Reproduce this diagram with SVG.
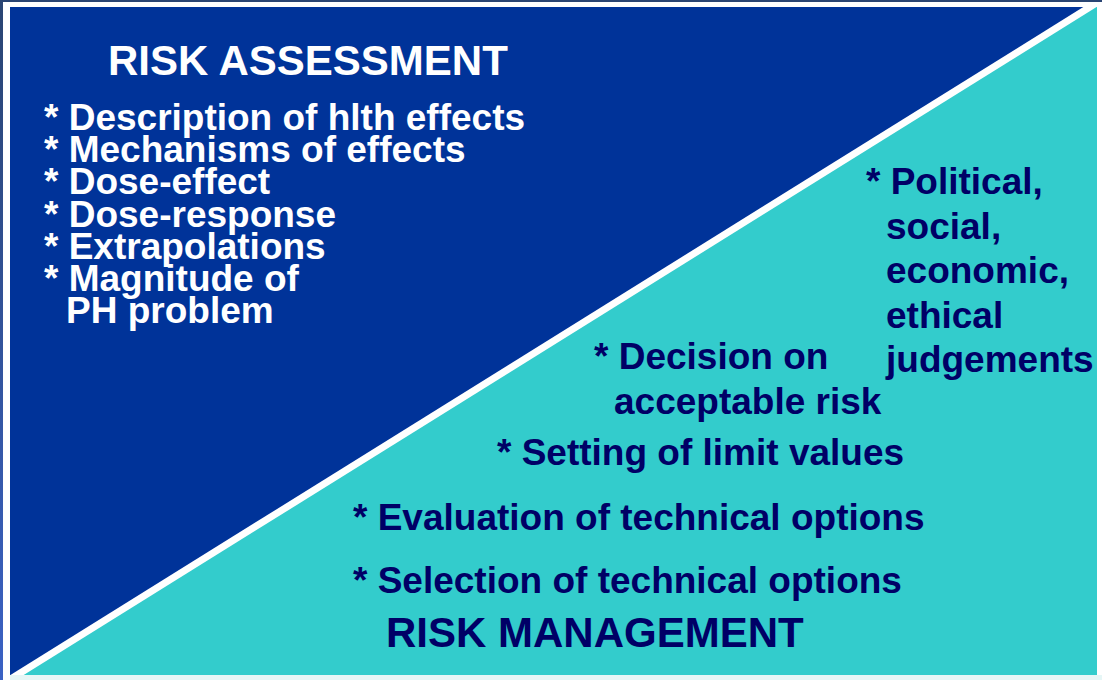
<svg xmlns="http://www.w3.org/2000/svg" width="1102" height="680" viewBox="0 0 1102 680">
  <defs>
    <linearGradient id="frameShade" x1="0" y1="0" x2="0" y2="1">
      <stop offset="0" stop-color="#2a4573"/>
      <stop offset="1" stop-color="#3b62c4"/>
    </linearGradient>
    <clipPath id="panelClip">
      <rect x="10" y="7" width="1087" height="668"/>
    </clipPath>
  </defs>
  <style>
    .head { font-family: "Liberation Sans", Arial, sans-serif; font-weight: bold; font-size: 42px; }
    .item { font-family: "Liberation Sans", Arial, sans-serif; font-weight: bold; font-size: 37px; }
    .light { fill: #ffffff; }
    .dark { fill: #000066; }
  </style>

  <!-- outer frame -->
  <rect x="0" y="0" width="1102" height="680" fill="url(#frameShade)"/>
  <rect x="3" y="2" width="1099" height="678" fill="#ffffff"/>
  <rect x="10" y="675" width="1092" height="5" fill="#e6f6f6"/>

  <!-- two triangular panels split by a white diagonal -->
  <g id="panels" clip-path="url(#panelClip)">
    <rect x="10" y="7" width="1087" height="668" fill="#33cccc"/>
    <polygon points="10,7 1090,7 17,675 10,675" fill="#003399"/>
    <line x1="1097" y1="2.6" x2="10" y2="679.4" stroke="#ffffff" stroke-width="7"/>
  </g>

  <!-- assessment side -->
  <g id="risk-assessment">
    <text class="head light" x="108" y="75">RISK ASSESSMENT</text>
    <text class="item light" x="44" y="129.5">* Description of hlth effects</text>
    <text class="item light" x="44" y="162">* Mechanisms of effects</text>
    <text class="item light" x="44" y="194">* Dose-effect</text>
    <text class="item light" x="44" y="226.5">* Dose-response</text>
    <text class="item light" x="44" y="258.5">* Extrapolations</text>
    <text class="item light" x="44" y="290.5">* Magnitude of</text>
    <text class="item light" x="66" y="322.5">PH problem</text>
  </g>

  <!-- value judgements -->
  <g id="judgements">
    <text class="item dark" x="866" y="194">* Political,</text>
    <text class="item dark" x="886" y="238.5">social,</text>
    <text class="item dark" x="886" y="283">economic,</text>
    <text class="item dark" x="886" y="327.5">ethical</text>
    <text class="item dark" x="886" y="372">judgements</text>
  </g>

  <!-- management side -->
  <g id="risk-management">
    <text class="item dark" x="594" y="369">* Decision on</text>
    <text class="item dark" x="614" y="414">acceptable risk</text>
    <text class="item dark" x="497" y="465">* Setting of limit values</text>
    <text class="item dark" x="353" y="530">* Evaluation of technical options</text>
    <text class="item dark" x="353" y="593">* Selection of technical options</text>
    <text class="head dark" x="386" y="647">RISK MANAGEMENT</text>
  </g>
</svg>
